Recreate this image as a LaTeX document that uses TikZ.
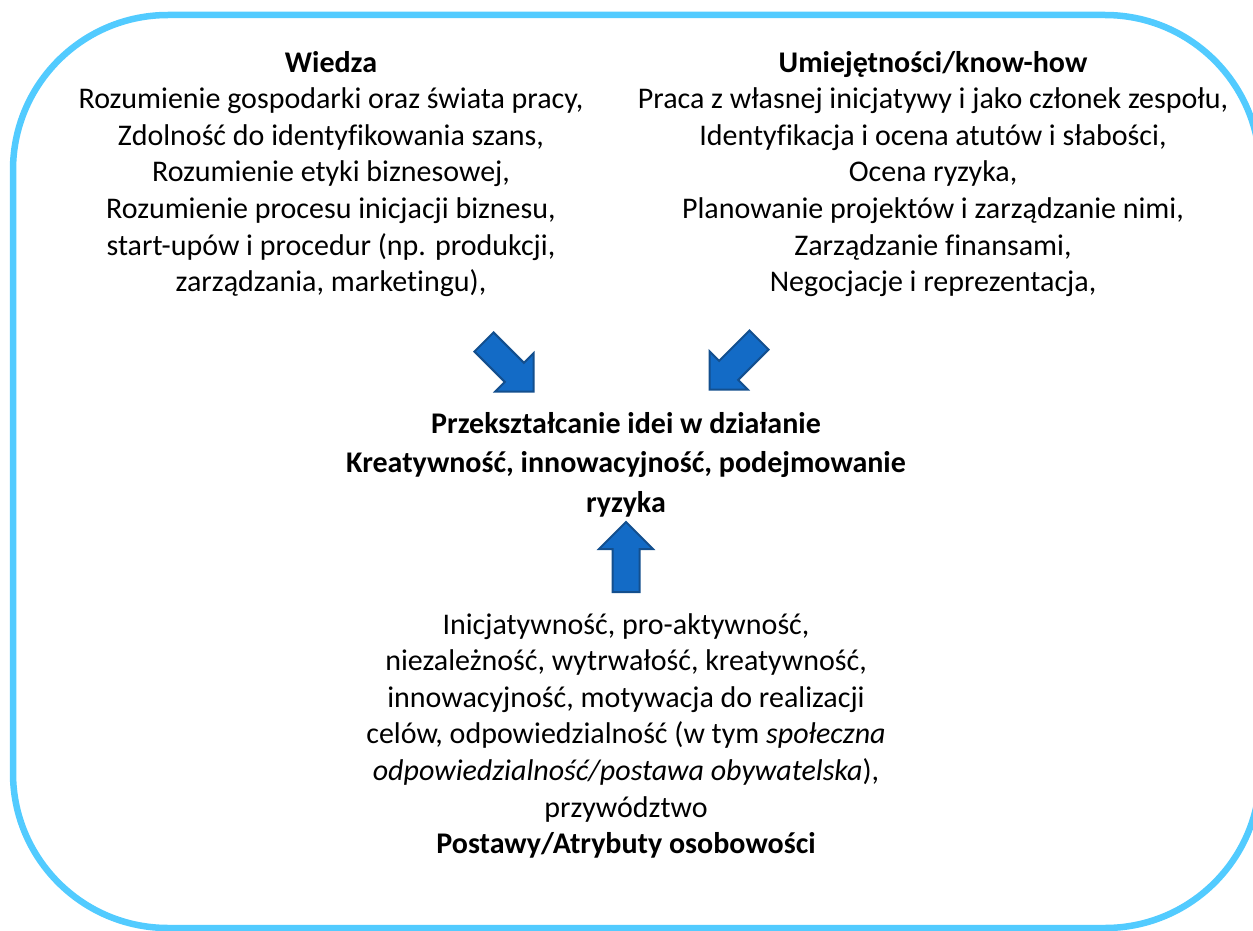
\documentclass[tikz,border=0pt]{standalone}
\usepackage{fontspec}
\setmainfont{Carlito}[Ligatures=NoCommon]
\usetikzlibrary{positioning}
\definecolor{frameblue}{HTML}{52CBFF}
\definecolor{arrowblue}{HTML}{136BC6}
\definecolor{arrowedge}{HTML}{134F8E}
\tikzset{
	frame/.style={draw=frameblue, line width=6.5pt, rounded corners=155pt},
	txt/.style={align=center, inner sep=0pt, anchor=base, font=\fontsize{30}{36.6}\selectfont},
	fatarrow/.pic={\draw[fill=arrowblue, draw=arrowedge, line width=2pt, line join=miter]
		(0,-13.5) -- (43,-13.5) -- (43,-27) -- (70,0) -- (43,27) -- (43,13.5) -- (0,13.5) -- cycle;}
}

\begin{document}
\begin{tikzpicture}[x=1pt, y=-1pt]
	\useasboundingbox (0,0) rectangle (1253,931);
	% frame
	\draw[frame] (13,15) rectangle (1260,928);
	
	% base = last line
	\node[txt] (wiedza) at (331,291.6) {\textbf{Wiedza}\\
		Rozumienie gospodarki oraz świata pracy,\\
		Zdolność do identyfikowania szans,\\
		Rozumienie etyki biznesowej,\\
		Rozumienie procesu inicjacji biznesu,\\
		start-upów i procedur (np. produkcji,\\
		zarządzania, marketingu),};
	\node[txt] (umiejetnosci) at (933,291.6) {\textbf{Umiejętności/know-how}\\
		Praca z własnej inicjatywy i jako członek zespołu,\\
		Identyfikacja i ocena atutów i słabości,\\
		Ocena ryzyka,\\
		Planowanie projektów i zarządzanie nimi,\\
		Zarządzanie finansami,\\
		Negocjacje i reprezentacja,};
	\node[txt, font=\fontsize{30}{39.5}\selectfont\bfseries] (dzialanie) at (626,512) {Przekształcanie idei w działanie\\
		Kreatywność, innowacyjność, podejmowanie\\
		ryzyka};
	\node[txt] (postawy) at (626,853.6) {Inicjatywność, pro-aktywność,\\
		niezależność, wytrwałość, kreatywność,\\
		innowacyjność, motywacja do realizacji\\
		celów, odpowiedzialność (w tym \textit{społeczna}\\
		\textit{odpowiedzialność/postawa obywatelska}),\\
		przywództwo\\
		\textbf{Postawy/Atrybuty osobowości}};
	
	\pic (arrL) [rotate=-45] at (484,342) {fatarrow};
	\pic (arrR) [rotate=-135] at (759,340) {fatarrow};
	\pic (arrU) [rotate=90] at (626,592) {fatarrow};
	
\end{tikzpicture}
\end{document}
